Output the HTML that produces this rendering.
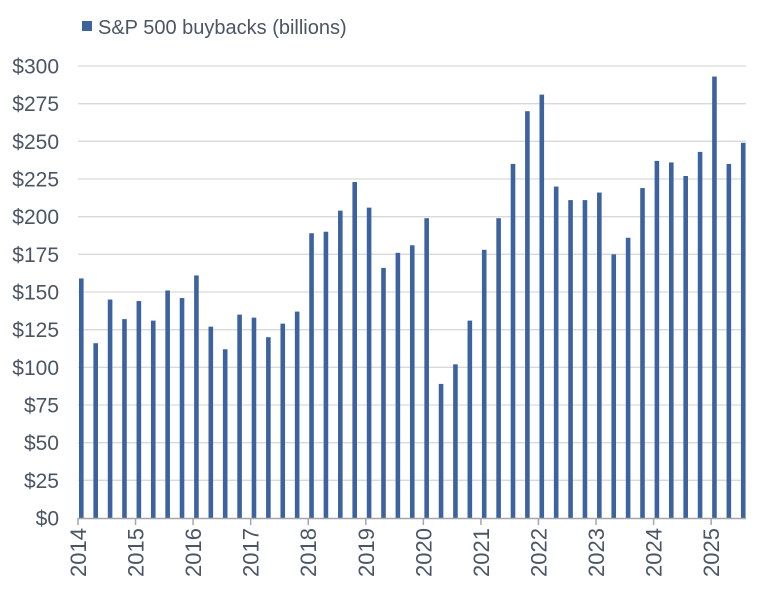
<!DOCTYPE html>
<html><head><meta charset="utf-8"><style>
html,body{margin:0;padding:0;background:#fff;}
svg{display:block;font-family:"Liberation Sans",sans-serif;}
</style></head><body>
<svg id="chart" width="762" height="590" viewBox="0 0 762 590">
<g>
<rect x="82" y="21" width="10" height="10" fill="#3d62a0"/>
<text x="98" y="34" font-size="20" fill="#4b5563">S&amp;P 500 buybacks (billions)</text>
</g>
<g id="grid"></g><g id="bars"></g><g id="axes"></g>
</svg>
<script>
const yTicks=[0,25,50,75,100,125,150,175,200,225,250,275,300];
const years=["2014","2015","2016","2017","2018","2019","2020","2021","2022","2023","2024","2025"];
const values=[159,116,145,132,144,131,151,146,161,127,112,135,133,120,129,137,189,190,204,223,206,166,176,181,199,89,102,131,178,199,235,270,281,220,211,211,216,175,186,219,237,236,227,243,293,235,249];
const NS="http://www.w3.org/2000/svg";
const x0=78,qw=14.39,yb=518,yt=66,ymax=300,xEnd=746;
function y(v){return yb-(v/ymax)*(yb-yt);}
function xq(i){return x0+1+i*qw;}
function mk(t,a,p){const e=document.createElementNS(NS,t);for(const k in a)e.setAttribute(k,a[k]);p.appendChild(e);return e;}
const grid=document.getElementById('grid'),bars=document.getElementById('bars'),axes=document.getElementById('axes');
yTicks.forEach(v=>{
 if(v>0){const l=mk('line',{x1:x0,x2:xEnd,y1:y(v),y2:y(v),stroke:'#d9d9d9','stroke-width':1.3},grid);
 
 }
 const t=mk('text',{x:59,y:y(v)+7.5,'font-size':21,fill:'#4b5563','text-anchor':'end'},axes);
 t.textContent='$'+v;
 
 
});
values.forEach((v,i)=>{
 const r=mk('rect',{x:xq(i),y:y(v),width:4.6,height:yb-y(v),fill:'#3d62a0'},bars);
 
 
});
const ax=mk('line',{x1:x0,x2:xEnd,y1:yb+0.5,y2:yb+0.5,stroke:'#a6a6a6','stroke-width':1.5},axes);


years.forEach((yr,i)=>{
 const tx=x0+i*4*qw;
 const tk=mk('line',{x1:tx,x2:tx,y1:yb,y2:yb+7,stroke:'#a6a6a6','stroke-width':1.5},axes);
 
 
 const t=mk('text',{x:0,y:0,'font-size':22,fill:'#4b5563','text-anchor':'end',transform:`translate(${tx+8},${yb+10}) rotate(-90)`},axes);
 t.textContent=yr;
 
 
});
</script>
</body></html>
